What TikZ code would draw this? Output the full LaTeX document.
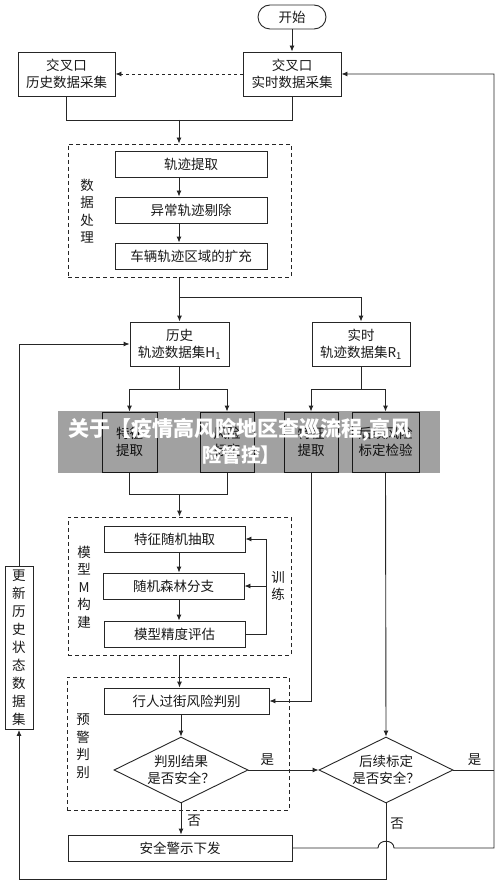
\documentclass[tikz,border=0pt]{standalone}
\usepackage{fontspec}
\setmainfont{Noto Sans CJK SC}
\usetikzlibrary{shapes.geometric,arrows.meta}
\begin{document}
\begin{tikzpicture}[x=1pt,y=-1pt]
\tikzset{
 bx/.style={draw=black!85, line width=0.9pt, inner sep=0pt, align=center, font=\fontsize{13.5}{17}\selectfont, text=black!90},
 dbox/.style={draw=black!85, line width=0.9pt, dash pattern=on 4pt off 3pt, inner sep=0pt},
 lbl/.style={inner sep=0pt, align=center, font=\fontsize{13.5}{17.5}\selectfont, text=black!90},
 dia/.style={bx, shape=diamond, aspect=2},
 arr/.style={-{Latex[length=6pt,width=5pt]}, line width=0.9pt, draw=black!85},
 ln/.style={line width=0.9pt, draw=black!85},
 wm/.style={inner sep=0pt, text=white, font=\fontsize{21}{24}\selectfont\bfseries}
}
\useasboundingbox (0,0) rectangle (500,885);
\fill[white] (0,0) rectangle (500,885);
\coordinate (ax) at (179,0);
\coordinate (tr) at (266,0);
\coordinate (rr) at (494,0);
% nodes
\node[bx, rounded corners=12pt, minimum width=68pt, minimum height=24pt] (start) at (292,17) {开始};
\node[bx, minimum width=98pt, minimum height=44pt] (rt) at (292,74) {交叉口\\实时数据采集};
\node[bx, minimum width=97pt, minimum height=44pt] (hist) at (66.5,74) {交叉口\\历史数据采集};
\node[dbox, minimum width=223pt, minimum height=133pt] (dp) at (179.5,210.5) {};
\node[bx, minimum width=152pt, minimum height=26pt] (t1) at (191,164) {轨迹提取};
\node[bx, minimum width=152pt, minimum height=26pt] (t2) at (191,210) {异常轨迹剔除};
\node[bx, minimum width=152pt, minimum height=26pt] (t3) at (191,256) {车辆轨迹区域的扩充};
\node[lbl] (l1) at (87,211) {数\\据\\处\\理};
\node[bx, minimum width=99pt, minimum height=44pt] (H1) at (179.5,344) {历史\\轨迹数据集H\textsubscript{1}};
\node[bx, minimum width=98pt, minimum height=44pt] (R1) at (361,344) {实时\\轨迹数据集R\textsubscript{1}};
\node[bx, minimum width=55pt, minimum height=60pt] (f1) at (129.5,442) {特征\\提取};
\node[bx, minimum width=54pt, minimum height=60pt] (f2) at (227,442) {风险\\标定};
\node[bx, minimum width=54pt, minimum height=60pt] (f3) at (311,442) {特征\\提取};
\node[bx, minimum width=67pt, minimum height=60pt] (f4) at (385.5,442) {后续风险\\标定检验};
\node[dbox, minimum width=223pt, minimum height=138pt] (mb) at (179.5,586) {};
\node[bx, minimum width=141pt, minimum height=26pt] (m1) at (174.5,539) {特征随机抽取};
\node[bx, minimum width=141pt, minimum height=26pt] (m2) at (173.5,586) {随机森林分支};
\node[bx, minimum width=141pt, minimum height=26pt] (m3) at (174.5,634) {模型精度评估};
\node[lbl] (l2) at (84,587) {模\\型\\M\\构\\建};
\node[lbl] (l3) at (278,586) {训\\练};
\node[bx, minimum width=28pt, minimum height=163pt, font=\fontsize{13.5}{18}\selectfont] (upd) at (19,648) {更\\新\\历\\史\\状\\态\\数\\据\\集};
\node[dbox, minimum width=222pt, minimum height=133pt] (wb) at (178,743.5) {};
\node[bx, minimum width=165pt, minimum height=26pt] (w1) at (186.5,701) {行人过街风险判别};
\node[lbl] (l4) at (83,746) {预\\警\\判\\别};
\node[dia, minimum width=134pt, minimum height=66pt] (d1) at (181,770) {判别结果\\是否安全？};
\node[dia, minimum width=134pt, minimum height=66pt] (d2) at (386,770) {后续标定\\是否安全？};
\node[bx, minimum width=224pt, minimum height=26pt] (warn) at (180,848) {安全警示下发};
% connectors
\draw[arr] (start) -- (rt);
\draw[arr, dashed] (rt.west) -- (hist.east);
\coordinate (j1) at (179,120);
\draw[ln] (hist.south) |- (rt.south |- j1) -- (rt.south);
\draw[arr] (j1) -- (dp.north -| j1);
\draw[arr] (t1.south -| ax) -- (t2.north -| ax);
\draw[arr] (t2.south -| ax) -- (t3.north -| ax);
\coordinate (j2) at (179.5,297);
\draw[arr] (dp.south) -- (H1.north);
\draw[arr] (j2) -| (R1.north);
\coordinate (j3) at (179.5,389);
\coordinate (j4) at (361,389);
\draw[ln] (H1.south) -- (j3);
\draw[arr] (j3) -| (f1.north);
\draw[arr] (j3) -| (f2.north);
\draw[ln] (R1.south) -- (j4);
\draw[arr] (j4) -| (f3.north);
\draw[arr] (j4) -| (f4.north);
\coordinate (j5) at (179.5,494);
\draw[ln] (f1.south) |- (f2.south |- j5) -- (f2.south);
\draw[arr] (j5) -- (mb.north);
\draw[arr] (m1.south -| ax) -- (m2.north -| ax);
\draw[arr] (m2.south -| ax) -- (m3.north -| ax);
\draw[arr] (m3.east) -| (tr |- m1.east) -- (m1.east);
\draw[arr] (tr |- m2.east) -- (m2.east);
\draw[arr] (mb.south) -- (w1.north -| mb.south);
\draw[arr] (f3.south) |- (w1.east);
\draw[arr] (w1.south -| d1.north) -- (d1.north);
\draw[arr] (d1.east) -- node[lbl, above=4pt, pos=0.27] (y1) {是} (d2.west);
\draw[arr] (f4.south) -- (d2.north);
\draw[ln] (d2.east) -- node[lbl, above=4pt, pos=0.52] (y2) {是} (rr |- d2.east);
\coordinate (b1) at (378,848);
\coordinate (b2) at (394,848);
\draw[arr] (warn.east) -- (b1) .. controls (378,839) and (394,839) .. (b2) -- (rr |- warn.east) -- (rr |- rt.east) -- (rt.east);
\draw[arr] (d1.south) -- node[lbl, right=6pt, pos=0.55] (n1) {否} (d1.south |- warn.north);
\coordinate (j6) at (386,879);
\draw[arr] (d2.south) -- node[lbl, right=4pt, pos=0.27] (n2) {否} (j6) -| (upd.south);
\draw[arr] (upd.north) |- (H1.west);
% watermark
\fill[black, opacity=0.37] (58,411) rectangle (440,473);
\node[wm, anchor=west] (wm1) at (68,430) {关于【疫情高风险地区查巡流程,高风};
\node[wm, font=\fontsize{19.5}{24}\selectfont\bfseries] (wm2) at (241,455) {险管控】};
\end{tikzpicture}
\end{document}
